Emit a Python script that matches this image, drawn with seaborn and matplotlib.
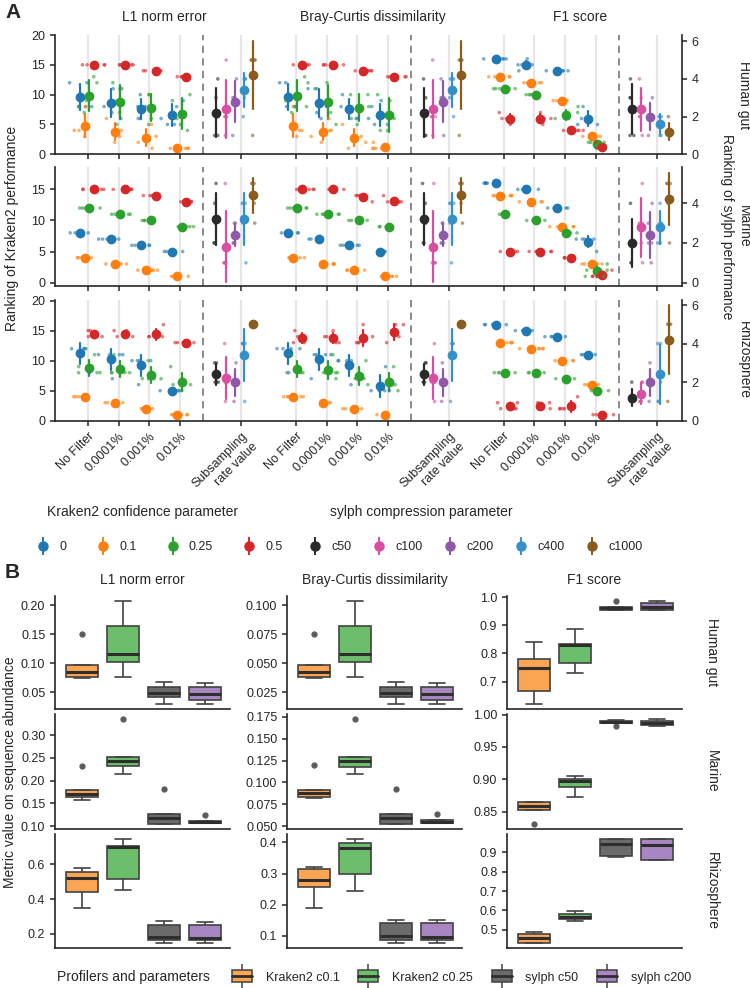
import numpy as np
import pandas as pd
import seaborn as sns
import matplotlib.pyplot as plt
from matplotlib.lines import Line2D
from matplotlib.patches import Patch
from matplotlib.legend_handler import HandlerTuple
from matplotlib.ticker import MultipleLocator, FormatStrFormatter
from matplotlib.transforms import blended_transform_factory

sns.set_style("ticks")
plt.rcParams["font.family"] = ["Liberation Sans", "DejaVu Sans"]
plt.rcParams["font.size"] = 9
plt.rcParams["axes.linewidth"] = 1.2
plt.rcParams["xtick.major.width"] = 1.1
plt.rcParams["ytick.major.width"] = 1.1
plt.rcParams["xtick.major.size"] = 3.5
plt.rcParams["ytick.major.size"] = 3.5

envs = ["Human gut", "Marine", "Rhizosphere"]
metrics = ["L1 norm error", "Bray-Curtis dissimilarity", "F1 score"]
thresholds = ["No Filter", "0.0001%", "0.001%", "0.01%"]
confidences = ["0", "0.1", "0.25", "0.5"]
compressions = ["c50", "c100", "c200", "c400", "c1000"]
profilers = ["Kraken2 c0.1", "Kraken2 c0.25", "sylph c50", "sylph c200"]

# ---- panel A: Kraken2 ranks  [threshold][confidence][samples]
gut_l1_kraken = [
    [[12, 12, 8, 8, 8], [8, 5, 4, 4, 3], [13, 12, 9, 8, 7], [15] * 5],
    [[11, 11, 8, 7, 6], [6, 4, 4, 3, 2], [12, 11, 9, 7, 5], [15] * 5],
    [[10, 8, 8, 6, 6], [5, 3, 3, 2, 1], [10, 10, 8, 6, 5], [14] * 5],
    [[9, 8, 6, 5, 5], [1] * 5, [10, 9, 6, 5, 4], [13] * 5],
]
gut_bc_kraken = [
    [[12, 12, 8, 8, 8], [8, 5, 4, 4, 3], [13, 12, 9, 8, 7], [15] * 5],
    [[11, 11, 8, 7, 6], [6, 4, 4, 3, 2], [12, 11, 9, 7, 5], [15] * 5],
    [[10, 8, 8, 6, 6], [5, 3, 3, 2, 1], [10, 10, 8, 6, 5], [14] * 5],
    [[9, 8, 6, 5, 5], [2, 1, 1, 1, 1], [10, 9, 6, 4, 4], [13] * 5],
]
gut_f1_kraken = [
    [[16] * 5, [13] * 5, [11] * 5, [7, 6, 6, 6, 5]],
    [[16, 15, 15, 15, 14], [12] * 5, [10] * 5, [7, 6, 6, 6, 5]],
    [[14] * 5, [9] * 5, [8, 7, 6, 6, 6], [4] * 5],
    [[8, 6, 6, 5, 5], [3] * 5, [2, 2, 2, 2, 1], [1, 1, 1, 1, 2]],
]
marine_l1_kraken = [
    [[8] * 5, [4] * 5, [12] * 5, [15] * 5],
    [[7] * 5, [3] * 5, [11] * 5, [15] * 5],
    [[6] * 5, [2] * 5, [10] * 5, [14] * 5],
    [[5] * 5, [1] * 5, [9] * 5, [13] * 5],
]
marine_bc_kraken = [
    [[8] * 5, [4] * 5, [12] * 5, [15] * 5],
    [[7] * 5, [3] * 5, [11] * 5, [15] * 5],
    [[6] * 5, [2] * 5, [10] * 5, [14, 14, 14, 14, 13]],
    [[5] * 5, [1] * 5, [9] * 5, [14, 13, 13, 13, 13]],
]
marine_f1_kraken = [
    [[16] * 5, [14] * 5, [11] * 5, [5] * 5],
    [[15] * 5, [13] * 5, [10] * 5, [5] * 5],
    [[12] * 5, [9] * 5, [8] * 5, [4] * 5],
    [[7, 7, 7, 7, 5], [3] * 5, [3, 2, 2, 1, 1], [1, 1, 1, 1, 2]],
]
rhizo_l1_kraken = [
    [[12, 12, 12, 12, 8], [4] * 5, [11, 9, 8, 8, 8], [15, 15, 14, 14, 14]],
    [[11, 11, 11, 11, 7], [3] * 5, [11, 8, 8, 8, 8], [15, 15, 14, 14, 14]],
    [[10, 10, 10, 10, 6], [2] * 5, [10, 7, 7, 7, 7], [16, 14, 14, 14, 14]],
    [[5] * 5, [1] * 5, [9, 6, 6, 6, 5], [13] * 5],
]
rhizo_bc_kraken = [
    [[12, 12, 12, 12, 8], [4] * 5, [11, 8, 8, 8, 8], [15, 14, 14, 13, 13]],
    [[11, 11, 11, 11, 7], [3] * 5, [11, 8, 8, 8, 7], [15, 14, 14, 13, 13]],
    [[10, 10, 10, 10, 6], [2] * 5, [10, 7, 7, 7, 6], [16, 14, 13, 13, 13]],
    [[9, 5, 5, 5, 5], [1] * 5, [9, 6, 6, 6, 5], [16, 16, 15, 14, 13]],
]
rhizo_f1_kraken = [
    [[16] * 5, [13] * 5, [8] * 5, [3, 3, 2, 2, 2]],
    [[15] * 5, [12] * 5, [8] * 5, [3, 3, 2, 2, 2]],
    [[14] * 5, [10] * 5, [7] * 5, [4, 2, 2, 2, 2]],
    [[11] * 5, [6] * 5, [5] * 5, [1] * 5],
]

# ---- panel A: sylph ranks  [compression][samples]
gut_l1_sylph = [[4, 3, 2, 1, 1], [5, 2, 2, 2, 1], [4, 3, 3, 3, 1], [4, 4, 4, 3, 2], [5, 5, 5, 5, 1]]
gut_bc_sylph = [[4, 3, 2, 1, 1], [5, 2, 2, 2, 1], [4, 3, 3, 3, 1], [4, 4, 4, 3, 2], [5, 5, 5, 5, 1]]
gut_f1_sylph = [[4, 3, 3, 1, 1], [4, 3, 2, 2, 1], [3, 2, 2, 2, 1], [2, 2, 2, 1, 1], [2, 1, 1, 1, 1]]
marine_l1_sylph = [[5, 4, 3, 2, 2], [5, 1, 1, 1, 1], [3, 3, 2, 2, 2], [4, 4, 4, 3, 1], [5, 5, 5, 4, 3]]
marine_bc_sylph = [[5, 4, 3, 2, 2], [5, 1, 1, 1, 1], [3, 3, 2, 2, 2], [4, 4, 4, 3, 1], [5, 5, 5, 4, 3]]
marine_f1_sylph = [[4, 2, 2, 1, 1], [5, 3, 3, 2, 1], [4, 3, 2, 2, 1], [4, 3, 3, 2, 2], [5, 5, 5, 4, 2]]
rhizo_l1_sylph = [[3, 3, 2, 2, 2], [4, 2, 2, 2, 1], [3, 2, 2, 2, 1], [4, 4, 4, 4, 1], [5] * 5]
rhizo_bc_sylph = [[3, 3, 2, 2, 2], [4, 2, 2, 2, 1], [3, 2, 2, 2, 1], [4, 4, 4, 4, 1], [5] * 5]
rhizo_f1_sylph = [[2, 1, 1, 1, 1], [2, 2, 1, 1, 1], [3, 2, 2, 2, 1], [4, 4, 2, 1, 1], [5, 5, 5, 5, 1]]

# ---- panel B: metric values  [profiler][samples]
gut_l1_box = [[0.075, 0.076, 0.085, 0.097, 0.151], [0.076, 0.102, 0.116, 0.164, 0.207],
              [0.030, 0.042, 0.049, 0.059, 0.068], [0.030, 0.037, 0.047, 0.059, 0.066]]
gut_bc_box = [[0.0375, 0.038, 0.0425, 0.0485, 0.0755], [0.038, 0.051, 0.058, 0.082, 0.1035],
              [0.015, 0.021, 0.0245, 0.0295, 0.034], [0.015, 0.0185, 0.0235, 0.0295, 0.033]]
gut_f1_box = [[0.621, 0.665, 0.750, 0.780, 0.841], [0.729, 0.766, 0.829, 0.833, 0.886],
              [0.953, 0.955, 0.960, 0.966, 0.986], [0.953, 0.955, 0.966, 0.980, 0.986]]
marine_l1_box = [[0.158, 0.163, 0.170, 0.180, 0.233], [0.215, 0.232, 0.243, 0.252, 0.335],
                 [0.105, 0.105, 0.118, 0.127, 0.182], [0.106, 0.106, 0.108, 0.111, 0.124]]
marine_bc_box = [[0.082, 0.083, 0.088, 0.092, 0.120], [0.110, 0.118, 0.124, 0.129, 0.172],
                 [0.053, 0.053, 0.060, 0.064, 0.093], [0.054, 0.054, 0.055, 0.057, 0.064]]
marine_f1_box = [[0.831, 0.853, 0.858, 0.864, 0.865], [0.873, 0.888, 0.897, 0.901, 0.905],
                 [0.982, 0.9875, 0.989, 0.991, 0.992], [0.982, 0.984, 0.987, 0.990, 0.993]]
rhizo_l1_box = [[0.349, 0.441, 0.520, 0.554, 0.577], [0.451, 0.515, 0.699, 0.708, 0.745],
                [0.148, 0.165, 0.180, 0.250, 0.271], [0.148, 0.165, 0.178, 0.248, 0.268]]
rhizo_bc_box = [[0.190, 0.256, 0.278, 0.316, 0.322], [0.245, 0.298, 0.382, 0.398, 0.410],
                [0.078, 0.088, 0.100, 0.140, 0.152], [0.078, 0.088, 0.098, 0.140, 0.152]]
rhizo_f1_box = [[0.433, 0.434, 0.458, 0.481, 0.489], [0.545, 0.555, 0.568, 0.581, 0.598],
                [0.874, 0.879, 0.940, 0.966, 0.967], [0.861, 0.862, 0.935, 0.966, 0.967]]

k_colors = ["#1f77b4", "#ff7f0e", "#2ca02c", "#d62728"]
s_colors = ["#2a2a2a", "#d94ea3", "#9058a8", "#3590c9", "#8b5a1c"]
box_colors = ["#FCA553", "#6BBF6A", "#6B6B6B", "#A886C4"]

kraken_ranks = {"Human gut": [gut_l1_kraken, gut_bc_kraken, gut_f1_kraken],
                "Marine": [marine_l1_kraken, marine_bc_kraken, marine_f1_kraken],
                "Rhizosphere": [rhizo_l1_kraken, rhizo_bc_kraken, rhizo_f1_kraken]}
sylph_ranks = {"Human gut": [gut_l1_sylph, gut_bc_sylph, gut_f1_sylph],
               "Marine": [marine_l1_sylph, marine_bc_sylph, marine_f1_sylph],
               "Rhizosphere": [rhizo_l1_sylph, rhizo_bc_sylph, rhizo_f1_sylph]}
box_values = {"Human gut": [gut_l1_box, gut_bc_box, gut_f1_box],
              "Marine": [marine_l1_box, marine_bc_box, marine_f1_box],
              "Rhizosphere": [rhizo_l1_box, rhizo_bc_box, rhizo_f1_box]}

# layout of the shared x axis in panel A
GROUP = 6.77
SYLPH_AT = 5
DASH_AT = 3.75
K_STEP, K_SHIFT = 0.153, -0.03
S_STEP, S_SHIFT = 0.30, -0.22

rec = []
for env in envs:
    for m, arr in enumerate(kraken_ranks[env]):
        for t in range(len(thresholds)):
            for c, conf in enumerate(confidences):
                pos = round(m * GROUP + t + (c - 1.5) * K_STEP + K_SHIFT, 4)
                for v in arr[t][c]:
                    rec.append((env, conf, pos, v))
kdf = pd.DataFrame(rec, columns=["env", "conf", "pos", "rank"])

rec = []
for env in envs:
    for m, arr in enumerate(sylph_ranks[env]):
        for j, comp in enumerate(compressions):
            pos = round(m * GROUP + SYLPH_AT + (j - 2) * S_STEP + S_SHIFT, 4)
            for v in arr[j]:
                rec.append((env, comp, pos, v))
sdf = pd.DataFrame(rec, columns=["env", "comp", "pos", "rank"])

rec = []
for env in envs:
    for m, metric in enumerate(metrics):
        for p, prof in enumerate(profilers):
            for v in box_values[env][m][p]:
                rec.append((env, metric, prof, v))
bdf = pd.DataFrame(rec, columns=["env", "metric", "profiler", "value"])

W, H = 750, 988
fig = plt.figure(figsize=(7.5, 9.88), dpi=100)


def box(x0, y0, x1, y1):
    return [x0 / W, 1 - y1 / H, (x1 - x0) / W, (y1 - y0) / H]


# ================= panel A =================
row_px = [(35, 154.3), (167, 286), (300, 420.7)]
left_lims = [(0, 20), (-0.55, 18.6), (0, 20.1)]
right_lims = [(0, 6.33), (-0.17, 5.83), (0, 6.26)]
left_ticks = [[0, 5, 10, 15, 20], [0, 5, 10, 15], [0, 5, 10, 15, 20]]
right_ticks = [[0, 2, 4, 6], [0, 2, 4], [0, 2, 4, 6]]
tick_pos = [m * GROUP + t for m in range(3) for t in [0, 1, 2, 3, SYLPH_AT]]
tick_lab = (thresholds + ["Subsampling\nrate value"]) * 3

np.random.seed(7)
for r, env in enumerate(envs):
    ax = fig.add_axes(box(55, row_px[r][0], 682, row_px[r][1]))
    ax2 = ax.twinx()
    k = kdf[kdf.env == env]
    s = sdf[sdf.env == env]

    sns.stripplot(data=k, x="pos", y="rank", hue="conf", hue_order=confidences,
                  palette=k_colors, native_scale=True, jitter=0.4 / K_STEP,
                  size=2.6, alpha=0.6, linewidth=0, legend=False, ax=ax)
    sns.pointplot(data=k, x="pos", y="rank", hue="conf", hue_order=confidences,
                  palette=k_colors, native_scale=True, errorbar="sd",
                  linestyle="none", markers="o", markersize=6, markeredgewidth=1,
                  err_kws={"linewidth": 1.6}, legend=False, ax=ax)

    sns.stripplot(data=s, x="pos", y="rank", hue="comp", hue_order=compressions,
                  palette=s_colors, native_scale=True, jitter=0.07 / S_STEP,
                  size=2.6, alpha=0.6, linewidth=0, legend=False, ax=ax2)
    sns.pointplot(data=s, x="pos", y="rank", hue="comp", hue_order=compressions,
                  palette=s_colors, native_scale=True, errorbar="sd",
                  linestyle="none", markers="o", markersize=6, markeredgewidth=1,
                  err_kws={"linewidth": 1.6}, legend=False, ax=ax2)

    ax.set_xlim(-1.075, 19.35)
    ax.set_ylim(*left_lims[r])
    ax2.set_ylim(*right_lims[r])
    ax.set_yticks(left_ticks[r])
    ax2.set_yticks(right_ticks[r])
    ax.set_xticks(tick_pos)
    if r == 2:
        ax.set_xticklabels(tick_lab, rotation=45, ha="right", rotation_mode="anchor")
    else:
        ax.set_xticklabels([])
    ax.grid(axis="x", color="#e6e6e6", lw=1.6)
    ax.set_axisbelow(True)
    for m in range(3):
        ax.axvline(m * GROUP + DASH_AT, color="#808080", ls=(0, (4, 3)), lw=1.3, zorder=1)
    ax.set_xlabel("")
    ax.set_ylabel("")
    ax2.set_ylabel("")
    ax.spines["top"].set_visible(False)
    ax.spines["right"].set_visible(False)
    for sp in ["top", "left", "bottom"]:
        ax2.spines[sp].set_visible(False)
    ax.tick_params(labelsize=9)
    ax2.tick_params(labelsize=9)

    mid = (row_px[r][0] + row_px[r][1]) / 2
    fig.text(744 / W, 1 - mid / H, env, rotation=270, ha="center", va="center", fontsize=10)

    if r == 0:
        tr = blended_transform_factory(ax.transData, ax.transAxes)
        for m, metric in enumerate(metrics):
            ax.text(m * GROUP + 2.5, 1.15, metric, transform=tr, ha="center", va="center", fontsize=10)

fig.text(12 / W, 1 - 228 / H, "Ranking of Kraken2 performance", rotation=90,
         ha="center", va="center", fontsize=10)
fig.text(727 / W, 1 - 227 / H, "Ranking of sylph performance", rotation=270,
         ha="center", va="center", fontsize=10)


def pt_handle(col):
    return (Line2D([], [], color=col, marker="|", markersize=13, mew=1.4, ls="none"),
            Line2D([], [], color=col, marker="o", markersize=6.5, ls="none"))


fig.text(47 / W, 1 - 512 / H, "Kraken2 confidence parameter", ha="left", va="center", fontsize=10)
fig.text(330 / W, 1 - 512 / H, "sylph compression parameter", ha="left", va="center", fontsize=10)
fig.legend(handles=[pt_handle(c) for c in k_colors], labels=confidences,
           handler_map={tuple: HandlerTuple(ndivide=1)}, loc="center left",
           bbox_to_anchor=(37 / W, 1 - 547 / H), ncol=4, frameon=False, fontsize=9,
           handlelength=1.0, handletextpad=0.8, columnspacing=2.4, borderpad=0, borderaxespad=0)
fig.legend(handles=[pt_handle(c) for c in s_colors], labels=compressions,
           handler_map={tuple: HandlerTuple(ndivide=1)}, loc="center left",
           bbox_to_anchor=(309 / W, 1 - 547 / H), ncol=5, frameon=False, fontsize=9,
           handlelength=1.0, handletextpad=0.8, columnspacing=1.7, borderpad=0, borderaxespad=0)

# ================= panel B =================
bcols = [(55, 230), (287, 462), (507, 682)]
brows = [(596, 709), (714, 829), (834, 948)]
b_step = [[0.05, 0.025, 0.1], [0.05, 0.025, 0.05], [0.2, 0.1, 0.1]]
b_fmt = [["%.2f", "%.3f", "%.1f"], ["%.2f", "%.3f", "%.2f"], ["%.1f", "%.1f", "%.1f"]]

for r, env in enumerate(envs):
    for c, metric in enumerate(metrics):
        ax = fig.add_axes(box(bcols[c][0], brows[r][0], bcols[c][1], brows[r][1]))
        d = bdf[(bdf.env == env) & (bdf.metric == metric)]
        sns.boxplot(data=d, x="profiler", y="value", hue="profiler", order=profilers,
                    hue_order=profilers, palette=box_colors, saturation=1, width=0.78,
                    linecolor="#424242", linewidth=1.2, fliersize=3.5,
                    flierprops=dict(marker="o", markerfacecolor="#5c5c5c", markeredgecolor="#5c5c5c"),
                    medianprops=dict(color="#2e2e2e", linewidth=2.2), legend=False, ax=ax)
        ax.set_xlim(-0.66, 3.6)
        ax.yaxis.set_major_locator(MultipleLocator(b_step[r][c]))
        ax.yaxis.set_major_formatter(FormatStrFormatter(b_fmt[r][c]))
        ax.tick_params(axis="x", length=0, labelbottom=False)
        ax.tick_params(axis="y", labelsize=9)
        ax.set_xlabel("")
        ax.set_ylabel("")
        ax.spines["top"].set_visible(False)
        ax.spines["right"].set_visible(False)
        if r == 0:
            ax.text(0.5, 1.14, metric, transform=ax.transAxes, ha="center", va="center", fontsize=10)
    mid = (brows[r][0] + brows[r][1]) / 2
    fig.text(712 / W, 1 - mid / H, env, rotation=270, ha="center", va="center", fontsize=10)

fig.text(10 / W, 1 - 772 / H, "Metric value on sequence abundance", rotation=90,
         ha="center", va="center", fontsize=10)


def box_handle(col):
    return (Line2D([], [], color="#424242", marker="|", markersize=17, mew=1.1, ls="none"),
            Patch(facecolor=col, edgecolor="#424242", lw=1.1),
            Line2D([], [], color="#2e2e2e", lw=2))


fig.text(57 / W, 1 - 977 / H, "Profilers and parameters", ha="left", va="center", fontsize=10)
fig.legend(handles=[box_handle(c) for c in box_colors], labels=profilers,
           handler_map={tuple: HandlerTuple(ndivide=1)}, loc="center left",
           bbox_to_anchor=(232 / W, 1 - 977 / H), ncol=4, frameon=False, fontsize=9,
           handlelength=1.6, handleheight=1.1, handletextpad=1.1, columnspacing=1.5,
           borderpad=0, borderaxespad=0)

fig.text(5 / W, 1 - 12 / H, "A", fontsize=15, fontweight="bold", ha="left", va="center")
fig.text(5 / W, 1 - 572 / H, "B", fontsize=15, fontweight="bold", ha="left", va="center")

fig.savefig("out.png", dpi=100)
